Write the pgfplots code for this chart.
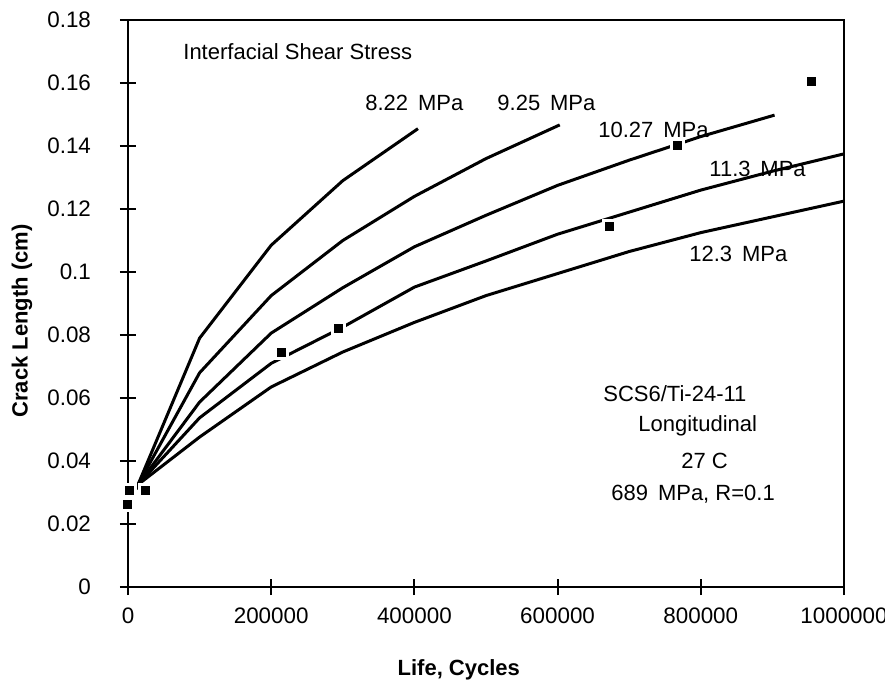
\documentclass[border=0pt]{standalone}
\usepackage{pgfplots}
\pgfplotsset{compat=1.18}
\usepackage{fontspec}
\setmainfont{Liberation Sans}
\begin{document}
\begin{tikzpicture}
\begin{axis}[name=ax, at={(0,0)}, anchor=south west,
  scale only axis, width=358pt, height=283.5pt,
  xmin=0, xmax=1000000, ymin=0, ymax=0.18,
  xtick={0,200000,400000,600000,800000,1000000},
  xticklabels={0,200000,400000,600000,800000,1000000},
  ytick={0,0.02,0.04,0.06,0.08,0.1,0.12,0.14,0.16,0.18},
  yticklabels={0,0.02,0.04,0.06,0.08,0.1,0.12,0.14,0.16,0.18},
  scaled x ticks=false, scaled y ticks=false,
  font=\fontsize{11}{13}\selectfont,
  tick label style={font=\fontsize{11.2}{13}\selectfont},
  xticklabel style={yshift=-3pt},
  yticklabel style={xshift=-11pt},
  tick align=center, major tick length=8pt,
  xtick pos=bottom, ytick pos=left,
  axis line style={line width=1.2pt},
  tick style={line width=1pt, black},
  xlabel={\bfseries Life, Cycles},
  ylabel={\bfseries Crack Length (cm)},
  xlabel style={at={(axis description cs:0.462,0)}, anchor=center, yshift=-41.5pt},
  ylabel style={at={(axis description cs:-0.148,0.469)}, anchor=center, rotate=0},
  clip=false,
]
% curves
\addplot[black, line width=1.5pt] coordinates {(0,0.0262) (14000,0.0325) (100000,0.079) (200000,0.1085) (300000,0.129) (405000,0.1455)};
\addplot[black, line width=1.5pt] coordinates {(0,0.0262) (14000,0.0325) (100000,0.068) (200000,0.0925) (300000,0.110) (400000,0.124) (500000,0.136) (603000,0.1467)};
\addplot[black, line width=1.5pt] coordinates {(0,0.0262) (14000,0.0325) (100000,0.0587) (200000,0.0806) (300000,0.095) (400000,0.108) (500000,0.118) (600000,0.1275) (700000,0.1355) (800000,0.143) (903000,0.1498)};
\addplot[black, line width=1.5pt] coordinates {(0,0.0262) (14000,0.0325) (100000,0.0537) (200000,0.071) (300000,0.0825) (400000,0.0952) (500000,0.1035) (600000,0.112) (700000,0.119) (800000,0.126) (900000,0.132) (1000000,0.1375)};
\addplot[black, line width=1.5pt] coordinates {(0,0.0262) (14000,0.0325) (100000,0.0476) (200000,0.0635) (300000,0.0746) (400000,0.084) (500000,0.0925) (600000,0.0995) (700000,0.1065) (800000,0.1125) (900000,0.1175) (1000000,0.1225)};
% data points
\addplot[only marks, mark=square*, mark size=3pt, mark options={draw=white, fill=black, line width=1.5pt}] coordinates {
(0,0.0263) (2000,0.0305) (25000,0.0305) (214000,0.0743) (294000,0.0822) (673000,0.1145) (768000,0.140) (955000,0.1606)};
% annotations
\node[anchor=west, inner sep=0] at (axis cs:76800,0.1698) {Interfacial Shear Stress};
\node[anchor=west, inner sep=0] at (axis cs:331000,0.1537) {8.22\hspace{0.45em}MPa};
\node[anchor=west, inner sep=0] at (axis cs:515400,0.1537) {9.25\hspace{0.45em}MPa};
\node[anchor=west, inner sep=0] at (axis cs:656400,0.1451) {10.27\hspace{0.45em}MPa};
\node[anchor=west, inner sep=0] at (axis cs:811500,0.1327) {11.3\hspace{0.45em}MPa};
\node[anchor=west, inner sep=0] at (axis cs:783500,0.1057) {12.3\hspace{0.45em}MPa};
\node[anchor=west, inner sep=0] at (axis cs:663400,0.0613) {SCS6/Ti-24-11};
\node[anchor=west, inner sep=0] at (axis cs:712300,0.0511) {Longitudinal};
\node[anchor=west, inner sep=0] at (axis cs:772300,0.0400) {27 C};
\node[anchor=west, inner sep=0] at (axis cs:674600,0.0295) {689\hspace{0.45em}MPa, R=0.1};
\end{axis}
\pgfresetboundingbox
\path[use as bounding box] (ax.south west) ++(-64pt,-49.5pt) rectangle ++(442.5pt,343pt);
\end{tikzpicture}
\end{document}
